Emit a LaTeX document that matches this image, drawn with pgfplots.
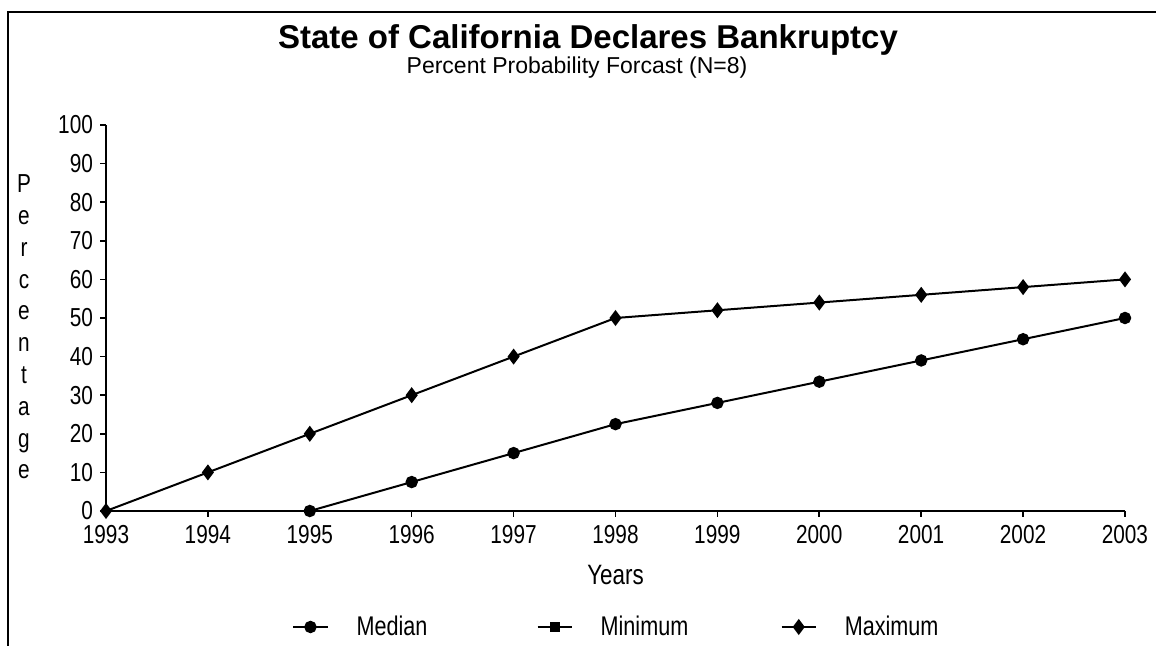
\documentclass[border=0pt]{standalone}
\usepackage{pgfplots}
\pgfplotsset{compat=1.18}
\usepackage{fontspec}
\setmainfont{Liberation Sans}
\newfontfamily\narrow[FakeStretch=0.8]{Liberation Sans}

\begin{document}
\begin{tikzpicture}
\useasboundingbox (-53pt,-67.5pt) rectangle (525pt,255.5pt);
% frame (left and top edges only, as in the scan)
\draw[line width=1pt] (-49pt,-67.5pt) -- (-49pt,249.5pt) -- (525pt,249.5pt);

\begin{axis}[
    at={(0pt,0pt)}, anchor=origin,
    scale only axis,
    width=509.5pt, height=193pt,
    xmin=1993, xmax=2003, ymin=0, ymax=100,
    axis x line=bottom, axis y line=left,
    axis line style={-, line width=1pt},
    xtick={1993,...,2003},
    ytick={0,10,...,100},
    tick align=outside,
    major tick length=3pt,
    tick style={black, line width=0.8pt},
    /pgf/number format/1000 sep={},
    /pgf/number format/assume math mode=true,
    tick label style={font=\narrow\fontsize{13}{14}\selectfont},
    xticklabel style={anchor=center, yshift=-9pt},
    yticklabel style={anchor=east, xshift=0pt, inner ysep=1pt},
    clip=false,
    legend columns=3,
    legend style={draw=none, at={(rel axis cs:0,0)}, anchor=west,
        xshift=90pt, yshift=-58pt, font=\narrow\fontsize{13.5}{15}\selectfont,
        cells={anchor=west},
        /tikz/every odd column/.append style={column sep=12pt},
        /tikz/every even column/.append style={text width=88pt, column sep=0pt}},
    legend cell align=left,
]
\addplot[black, line width=1pt, mark=*, mark size=2.6pt] coordinates {
    (1995,0) (1996,7.5) (1997,15) (1998,22.5) (1999,28)
    (2000,33.5) (2001,39) (2002,44.5) (2003,50)
};
\addlegendentry{Median}

\addplot[black, line width=1pt, forget plot] coordinates {
    (1993,0) (1994,0) (1995,0) (1996,0) (1997,0) (1998,0)
    (1999,0) (2000,0) (2001,0) (2002,0) (2003,0)
};
\addlegendimage{black, line width=1pt, mark=square*, mark size=2pt}
\addlegendentry{Minimum}

\addplot[black, line width=1pt, mark=diamond*, mark size=3.2pt] coordinates {
    (1993,0) (1994,10) (1995,20) (1996,30) (1997,40) (1998,50)
    (1999,52) (2000,54) (2001,56) (2002,58) (2003,60)
};
\addlegendentry{Maximum}

\node[font=\narrow\fontsize{14}{15}\selectfont] at (rel axis cs:0.5,0) [yshift=-32pt] {Years};
\end{axis}

\node[font=\bfseries\fontsize{16.5}{19}\selectfont] at (241pt,235.5pt) {State of California Declares Bankruptcy};
\node[font=\fontsize{11.5}{13}\selectfont] at (235.5pt,221.5pt) {Percent Probability Forcast (N=8)};
\node[align=center, font=\narrow\fontsize{13}{15.9}\selectfont] at (-41pt,92pt)
    {P\\e\\r\\c\\e\\n\\t\\a\\g\\e};
\end{tikzpicture}
\end{document}
